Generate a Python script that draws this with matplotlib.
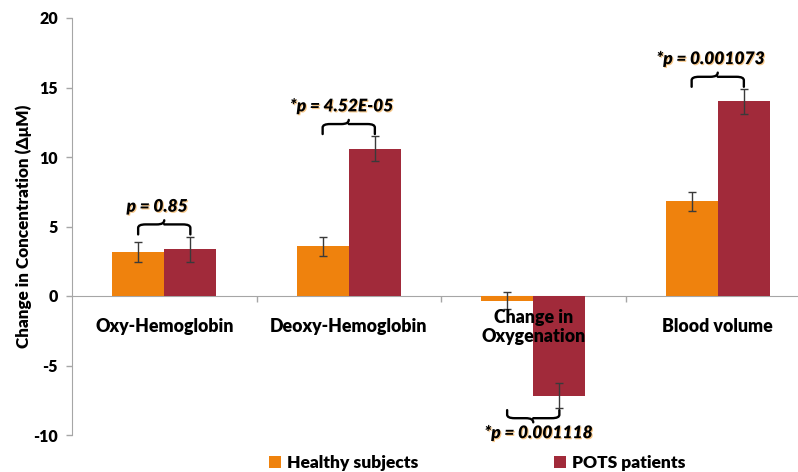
import matplotlib
matplotlib.use("Agg")
import matplotlib.pyplot as plt
import matplotlib.patheffects as pe
from matplotlib.path import Path
from matplotlib.patches import PathPatch, Patch
import numpy as np

categories = ["Oxy-Hemoglobin", "Deoxy-Hemoglobin", "Change in\nOxygenation", "Blood volume"]
healthy = [3.17, 3.57, -0.34, 6.8]
healthy_err = [0.72, 0.68, 0.62, 0.68]
pots = [3.36, 10.6, -7.17, 14.0]
pots_err = [0.92, 0.9, 0.89, 0.9]
p_labels = ["p = 0.85", "*p = 4.52E-05", "*p = 0.001118", "*p = 0.001073"]

ORANGE = "#EF820D"
RED = "#A12A3A"
GRAY = "#A6A6A6"
WEIGHT = 800

plt.rcParams["font.family"] = ["Lato", "DejaVu Sans"]
plt.rcParams["font.weight"] = WEIGHT
plt.rcParams["axes.unicode_minus"] = False

fig = plt.figure(figsize=(7.98, 4.72), dpi=100)
ax = fig.add_axes([72 / 798, 1 - 435 / 472, 738 / 798, 417 / 472])

x = np.arange(len(categories))
w = 0.283
ekw = dict(ecolor="#3a3a3a", elinewidth=1, capsize=3, capthick=1)
ax.bar(x - w / 2, healthy, w, color=ORANGE, yerr=healthy_err, error_kw=ekw, zorder=2)
ax.bar(x + w / 2, pots, w, color=RED, yerr=pots_err, error_kw=ekw, zorder=2)

ax.set_xlim(-0.5, len(categories) - 0.5)
ax.set_ylim(-10, 20)
ax.set_yticks(range(-10, 21, 5))

for s in ["top", "right"]:
    ax.spines[s].set_visible(False)
ax.spines["left"].set_color(GRAY)
ax.spines["bottom"].set_color(GRAY)
ax.spines["bottom"].set_position(("data", 0))
ax.spines["bottom"].set_zorder(1)

ax.tick_params(axis="y", colors=GRAY, labelcolor="black", labelsize=11.5, length=4, width=1, pad=6)
ax.set_xticks(np.arange(0.5, len(categories), 1))
ax.set_xticklabels([])
ax.tick_params(axis="x", colors=GRAY, length=4, width=1)

ax.set_ylabel("Change in Concentration (\u0394\u03bcM)", fontsize=12.3, fontweight=WEIGHT, labelpad=1)

# category names sit just under the zero line
for i, name in enumerate(categories):
    ax.annotate(name, xy=(i, 0), xytext=(0, -22), textcoords="offset points",
                ha="center", va="center", fontsize=12.8, fontweight=WEIGHT,
                linespacing=1.15, zorder=3)


def brace(ax, x0, x1, y0, h, tip):
    # curly bracket from x0 to x1; legs start at y0, bar at y0+h, point at y0+h+tip
    d = np.sign(h)
    r = 0.04
    yb = y0 + h
    xm = (x0 + x1) / 2
    verts = [(x0, y0), (x0, yb - d * 0.25), (x0, yb), (x0 + r, yb),
             (xm - r, yb), (xm, yb), (xm, yb + tip),
             (xm, yb), (xm + r, yb),
             (x1 - r, yb), (x1, yb), (x1, yb - d * 0.25), (x1, y0)]
    codes = [Path.MOVETO, Path.LINETO, Path.CURVE3, Path.CURVE3,
             Path.LINETO, Path.CURVE3, Path.CURVE3,
             Path.MOVETO, Path.CURVE3,
             Path.LINETO, Path.CURVE3, Path.CURVE3, Path.LINETO]
    ax.add_patch(PathPatch(Path(verts, codes), fill=False, lw=1.7,
                           edgecolor="black", capstyle="round", zorder=4))
    return xm, yb + tip


shadow = [pe.withSimplePatchShadow(offset=(0.8, -0.8), shadow_rgbFace="#F2A33A", alpha=0.6)]
for i in range(len(categories)):
    tops = [healthy[i] + healthy_err[i], pots[i] + pots_err[i]]
    bots = [healthy[i] - healthy_err[i], pots[i] - pots_err[i]]
    if pots[i] >= 0:
        xm, yt = brace(ax, i - w / 2, i + w / 2, max(tops) + 0.15, 0.72, 0.3)
        ax.annotate(p_labels[i], xy=(xm, yt), xytext=(-5, 4), textcoords="offset points",
                    ha="center", va="bottom", fontsize=12.5, fontweight=WEIGHT,
                    style="italic", path_effects=shadow, zorder=5)
    else:
        xm, yt = brace(ax, i - w / 2, i + w / 2, min(bots) - 0.15, -0.58, -0.3)
        ax.annotate(p_labels[i], xy=(xm, yt), xytext=(4, -2), textcoords="offset points",
                    ha="center", va="top", fontsize=12.5, fontweight=WEIGHT,
                    style="italic", path_effects=shadow, zorder=5)

handles = [Patch(facecolor=ORANGE, label="Healthy subjects"),
           Patch(facecolor=RED, label="POTS patients")]
fig.legend(handles=handles, loc="center", bbox_to_anchor=(477 / 798, 9 / 472), ncol=2,
           frameon=False, prop=dict(weight=WEIGHT, size=12.5),
           handlelength=0.7, handleheight=0.7, handletextpad=0.35, columnspacing=7.8,
           borderpad=0, borderaxespad=0)

fig.savefig("out.png", dpi=100)
